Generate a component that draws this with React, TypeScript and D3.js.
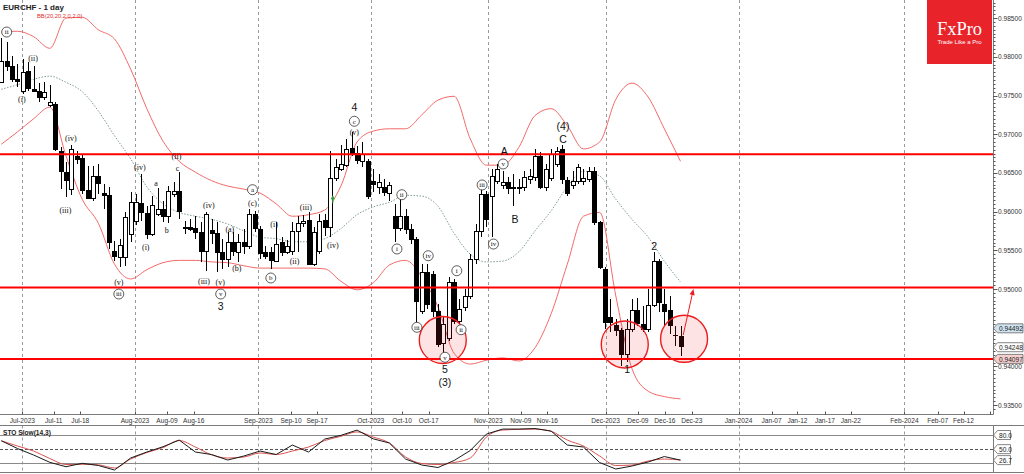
import React from "react";
import * as d3 from "d3";

// ---------- Daily candles EURCHF ----------
const open = [0.9767,0.9795,0.9788,0.9771,0.9756,0.9782,0.9758,0.9756,0.9748,0.9738,
0.9739,0.9678,0.9651,0.9629,0.9672,0.9669,0.9628,0.9618,0.9646,0.9624,
0.9621,0.9549,0.9541,0.9541,0.9571,0.9588,0.9611,0.9598,0.9571,0.9597,
0.9603,0.9594,0.9623,0.9627,0.9580,0.9580,0.9579,0.9574,0.9549,0.9576,
0.9572,0.9548,0.9539,0.9561,0.9548,0.9561,0.9556,0.9597,0.9578,0.9548,
0.9548,0.9536,0.9561,0.9548,0.9549,0.9575,0.9585,0.9589,0.9532,0.9549,
0.9589,0.9580,0.9643,0.9655,0.9660,0.9682,0.9676,0.9665,0.9665,0.9640,
0.9632,0.9632,0.9624,0.9594,0.9579,0.9594,0.9578,0.9565,0.9472,0.9522,
0.9519,0.9472,0.9430,0.9437,0.9509,0.9459,0.9477,0.9491,0.9539,0.9575,
0.9623,0.9620,0.9640,0.9634,0.9638,0.9632,0.9632,0.9632,0.9642,0.9645,
0.9672,0.9632,0.9643,0.9661,0.9681,0.9641,0.9634,0.9640,0.9640,0.9642,
0.9652,0.9587,0.9526,0.9464,0.9453,0.9447,0.9416,0.9448,0.9473,0.9455,
0.9448,0.9479,0.9536,0.9481,0.9473,0.9441,0.9439];
const high = [0.9824,0.9819,0.9801,0.9791,0.9797,0.9793,0.9788,0.9766,0.9767,0.9764,
0.9742,0.9683,0.9664,0.9686,0.9678,0.9673,0.9659,0.9659,0.9661,0.9636,
0.9632,0.9562,0.9565,0.9599,0.9625,0.9623,0.9649,0.9607,0.9620,0.9630,
0.9614,0.9633,0.9638,0.9651,0.9588,0.9590,0.9594,0.9587,0.9599,0.9590,
0.9587,0.9565,0.9574,0.9574,0.9571,0.9578,0.9603,0.9601,0.9581,0.9556,
0.9554,0.9587,0.9567,0.9563,0.9587,0.9594,0.9596,0.9599,0.9580,0.9597,
0.9597,0.9678,0.9668,0.9686,0.9694,0.9703,0.9685,0.9690,0.9668,0.9655,
0.9649,0.9642,0.9638,0.9610,0.9616,0.9603,0.9584,0.9567,0.9532,0.9532,
0.9523,0.9481,0.9464,0.9516,0.9513,0.9487,0.9500,0.9545,0.9584,0.9629,
0.9627,0.9655,0.9661,0.9652,0.9645,0.9649,0.9642,0.9652,0.9655,0.9681,
0.9677,0.9661,0.9681,0.9683,0.9686,0.9645,0.9652,0.9661,0.9655,0.9658,
0.9658,0.9588,0.9528,0.9487,0.9461,0.9450,0.9461,0.9487,0.9488,0.9478,
0.9500,0.9548,0.9539,0.9500,0.9491,0.9452,0.9452];
const low = [0.9766,0.9782,0.9767,0.9761,0.9752,0.9756,0.9755,0.9742,0.9744,0.9735,
0.9678,0.9629,0.9619,0.9621,0.9661,0.9623,0.9616,0.9614,0.9623,0.9603,
0.9552,0.9536,0.9528,0.9530,0.9561,0.9583,0.9588,0.9565,0.9568,0.9594,
0.9587,0.9585,0.9619,0.9590,0.9571,0.9575,0.9565,0.9535,0.9523,0.9558,
0.9522,0.9526,0.9528,0.9543,0.9535,0.9545,0.9552,0.9574,0.9539,0.9539,
0.9526,0.9535,0.9543,0.9545,0.9544,0.9548,0.9580,0.9531,0.9530,0.9545,
0.9568,0.9567,0.9640,0.9652,0.9658,0.9672,0.9661,0.9658,0.9616,0.9625,
0.9623,0.9620,0.9614,0.9561,0.9575,0.9571,0.9558,0.9455,0.9468,0.9474,
0.9464,0.9425,0.9413,0.9433,0.9455,0.9455,0.9472,0.9487,0.9532,0.9567,
0.9580,0.9567,0.9636,0.9629,0.9623,0.9607,0.9623,0.9627,0.9636,0.9640,
0.9629,0.9627,0.9640,0.9658,0.9636,0.9620,0.9629,0.9636,0.9634,0.9638,
0.9583,0.9526,0.9448,0.9444,0.9439,0.9400,0.9406,0.9444,0.9452,0.9444,
0.9444,0.9477,0.9470,0.9452,0.9442,0.9426,0.9413];
const close = [0.9795,0.9788,0.9771,0.9769,0.9780,0.9760,0.9756,0.9748,0.9755,0.9742,
0.9681,0.9652,0.9641,0.9681,0.9668,0.9628,0.9618,0.9646,0.9637,0.9621,
0.9561,0.9543,0.9557,0.9593,0.9612,0.9612,0.9599,0.9571,0.9609,0.9603,
0.9594,0.9627,0.9627,0.9601,0.9579,0.9578,0.9574,0.9549,0.9597,0.9572,
0.9548,0.9539,0.9561,0.9549,0.9561,0.9556,0.9597,0.9579,0.9547,0.9543,
0.9537,0.9558,0.9548,0.9556,0.9575,0.9585,0.9588,0.9532,0.9574,0.9588,
0.9580,0.9643,0.9658,0.9661,0.9681,0.9676,0.9667,0.9674,0.9620,0.9636,
0.9638,0.9625,0.9634,0.9579,0.9594,0.9578,0.9565,0.9484,0.9522,0.9481,
0.9472,0.9429,0.9455,0.9509,0.9459,0.9474,0.9491,0.9539,0.9575,0.9623,
0.9590,0.9646,0.9655,0.9638,0.9630,0.9630,0.9631,0.9645,0.9646,0.9672,
0.9632,0.9655,0.9674,0.9678,0.9642,0.9624,0.9640,0.9658,0.9643,0.9652,
0.9587,0.9528,0.9457,0.9457,0.9447,0.9416,0.9448,0.9473,0.9456,0.9448,
0.9479,0.9536,0.9483,0.9472,0.9453,0.9440,0.9426];

// ---------- Indicators sampled every 3 bars ----------
const sampleIdx = [0,3,6,9,12,15,18,21,24,27,30,33,36,39,42,45,48,51,54,57,60,63,66,69,72,75,78,81,84,87,90,93,96,99,102,105,108,111,114,117,120,123,126];
const bbUpper = [0.9832,0.9833,0.9826,0.9811,0.9850,0.9851,0.9835,0.9823,0.9784,0.9733,0.9691,0.9665,0.9651,0.9640,0.9633,0.9629,0.9624,0.9610,0.9594,0.9596,0.9602,0.9633,0.9690,0.9704,0.9707,0.9707,0.9725,0.9744,0.9749,0.9694,0.9660,0.9660,0.9683,0.9724,0.9733,0.9711,0.9681,0.9690,0.9745,0.9766,0.9748,0.9707,0.9665];
const bbMiddle = [0.9758,0.9764,0.9771,0.9775,0.9767,0.9755,0.9730,0.9698,0.9668,0.9632,0.9610,0.9599,0.9594,0.9590,0.9584,0.9575,0.9567,0.9565,0.9561,0.9561,0.9565,0.9578,0.9596,0.9606,0.9612,0.9621,0.9620,0.9607,0.9572,0.9545,0.9535,0.9536,0.9548,0.9575,0.9601,0.9632,0.9652,0.9646,0.9616,0.9590,0.9567,0.9536,0.9509];
const bbLower = [0.9687,0.9703,0.9720,0.9735,0.9672,0.9616,0.9585,0.9532,0.9513,0.9525,0.9534,0.9537,0.9537,0.9535,0.9534,0.9530,0.9527,0.9527,0.9527,0.9527,0.9526,0.9510,0.9499,0.9508,0.9531,0.9537,0.9516,0.9477,0.9417,0.9403,0.9408,0.9411,0.9407,0.9424,0.9468,0.9532,0.9594,0.9599,0.9491,0.9397,0.9368,0.9361,0.9358];
const stoK = [67.8,51.3,37.5,22.0,12.7,19.9,15.3,5.7,31.2,43.9,55.1,69.3,43.9,38.6,26.9,35.4,46.0,38.6,58.7,43.9,71.4,79.3,90.5,71.9,63.0,29.0,16.3,11.0,25.9,47.1,82.0,92.6,92.6,93.7,88.4,58.7,54.5,21.6,7.8,14.2,22.7,34.3,26.7];
const stoD = [67.8,56.6,46.0,30.1,17.4,17.8,16.7,10.0,29.0,42.8,53.4,68.3,54.5,37.9,31.2,33.3,41.8,38.6,46.0,54.5,68.3,77.2,86.7,75.7,63.0,33.3,19.5,17.4,21.6,31.2,75.7,90.5,92.0,92.6,87.8,69.3,56.6,35.4,15.3,16.3,24.8,29.0,26.9];
const stoLevels = [80, 50, 20];

// ---------- Axis ----------
const tickLabels = ["Jul-2023","Jul-11","Jul-18","Aug-2023","Aug-09","Aug-16","Sep-2023","Sep-10","Sep-17","Oct-2023","Oct-10","Oct-17","Nov-2023","Nov-09","Nov-16","Dec-2023","Dec-09","Dec-16","Dec-23","Jan-2024","Jan-07","Jan-12","Jan-17","Jan-22","Feb-2024","Feb-07","Feb-12"];
const tickIdx = [3.9,9.74,14.66,24.8,30.74,35.7,47.68,53.75,58.57,68.53,74.34,79.3,90.35,96.38,101.3,112.1,118.1,123.1,128.1,136.77,142.9,147.7,152.8,157.6,167.55,173.7,178.5];
const priceTicks = [0.935,0.940,0.945,0.950,0.955,0.960,0.965,0.970,0.975,0.980,0.985];

// ---------- Drawn objects ----------
const levelPrices = [0.9674, 0.9502, 0.94097];
const tagValues = [0.94492, 0.94248, 0.94097];
const tagFills = ["#cfe3f1", "#ffffff", "#f6cfcf"];
const circleIdx = [81.9, 115.66, 126.66];
const circlePrice = [0.94341, 0.94283, 0.94357];
const arrowIdx = [126.5, 128.4];
const arrowPrice = [0.94406, 0.9500];

const waveText = ["ii","(ii)","(i)","(iv)","(iii)","(v)","iii","(iv)","(i)","a","b","c","(ii)","(iv)","(iii)","(v)","v","3","(a)","(b)","a","(c)","b","(i)","(ii)","(iii)","(iv)","4","c","(v)","ii","i","iii","iv","v","5","(3)","i","ii","iii","iv","v","A","B","(4)","C","2","1"];
const waveKind = ["c","p","p","p","p","p","c","p","p","p","p","p","p","p","p","p","c","b","p","p","c","p","c","p","p","p","p","b","c","p","c","c","c","c","c","b","b","c","c","c","c","c","b","b","b","b","b","b"];
const waveIdx = [1.0,5.9,3.8,12.9,11.9,21.8,21.8,25.7,26.8,28.7,30.7,32.7,32.5,38.5,37.6,40.6,40.7,40.7,42.4,43.7,46.6,46.6,50.0,50.6,54.4,56.5,61.5,65.5,65.5,65.5,74.3,73.4,77.1,79.2,82.3,82.3,82.3,84.5,85.3,89.2,91.3,93.1,93.3,95.3,104.2,104.2,121.1,116.1];
const wavePrice = [0.98320,0.97972,0.97442,0.96938,0.96008,0.95090,0.94935,0.96576,0.95530,0.96357,0.95753,0.96563,0.96718,0.96085,0.95103,0.95090,0.94935,0.94780,0.95775,0.95271,0.96283,0.96107,0.95142,0.95831,0.95358,0.96059,0.95559,0.97348,0.97167,0.97025,0.96218,0.95517,0.94505,0.95430,0.94118,0.93966,0.93795,0.95236,0.94474,0.96344,0.95581,0.96615,0.96787,0.95904,0.97110,0.96938,0.95559,0.93966];

const PR = 993.5;      // right edge of plot
const MB = 414.5;      // main panel bottom
const ST = 425.5;      // sto top
const SB = 472.5;      // sto bottom
const SANS = "'Liberation Sans', Arial, sans-serif";
const SERIF = "'Liberation Serif', 'Times New Roman', serif";

export default function App() {
  const x = d3.scaleLinear().domain([0, 126]).range([1.3, 680.5]);
  const y = d3.scaleLinear().domain([0.935, 0.985]).range([405.1, 18.1]);
  const ys = d3.scaleLinear().domain([0, 100]).range([472.7, 425.6]);

  const bandPath = (vals: number[]) =>
    d3.line<number>().x((_, i) => x(sampleIdx[i])).y((v) => y(v)).curve(d3.curveMonotoneX)(vals) || "";
  const stoPath = (vals: number[], curve: any) =>
    d3.line<number>().x((_, i) => x(sampleIdx[i])).y((v) => ys(v)).curve(curve)(vals) || "";

  const minorTicks = d3.range(0, 106).map((k) => 0.9345 + k * 0.0005);
  const monthGrid = tickIdx.filter((_, i) => /20\d\d/.test(tickLabels[i]));

  const ax1 = x(arrowIdx[0]), ay1 = y(arrowPrice[0]);
  const ax2 = x(arrowIdx[1]), ay2 = y(arrowPrice[1]);
  const ang = Math.atan2(ay2 - ay1, ax2 - ax1);
  const hl = 6, hw = 2.6;
  const head = `M${ax2},${ay2} L${ax2 - hl * Math.cos(ang) + hw * Math.sin(ang)},${ay2 - hl * Math.sin(ang) - hw * Math.cos(ang)} L${ax2 - hl * Math.cos(ang) - hw * Math.sin(ang)},${ay2 - hl * Math.sin(ang) + hw * Math.cos(ang)} Z`;

  const tag = (yy: number, w: number) =>
    `M${PR},${yy} L${PR + 4},${yy - 4.5} L${PR + 4 + w},${yy - 4.5} L${PR + 4 + w},${yy + 4.5} L${PR + 4},${yy + 4.5} Z`;

  const gx = x(61.5), gy = y(0.9616);

  return (
    <svg width={1024} height={474} style={{ position: "fixed", left: 0, top: 0, background: "#fff" }}>
      <defs>
        <clipPath id="mainClip"><rect x={0} y={0} width={PR} height={MB} /></clipPath>
        <clipPath id="stoClip"><rect x={0} y={ST} width={PR} height={SB - ST} /></clipPath>
      </defs>
      <rect x={0} y={0} width={1024} height={474} fill="#fff" />

      {/* vertical month grid */}
      {monthGrid.map((t, i) => (
        <g key={"g" + i}>
          <line x1={Math.round(x(t)) + 0.5} x2={Math.round(x(t)) + 0.5} y1={0} y2={MB} stroke="#9a9a9a" strokeDasharray="3,3" />
          <line x1={Math.round(x(t)) + 0.5} x2={Math.round(x(t)) + 0.5} y1={ST} y2={SB} stroke="#9a9a9a" strokeDasharray="3,3" />
        </g>
      ))}

      <g clipPath="url(#mainClip)">
        {/* Bollinger bands */}
        <path d={bandPath(bbUpper)} fill="none" stroke="#f26a6a" strokeWidth={1} />
        <path d={bandPath(bbLower)} fill="none" stroke="#f26a6a" strokeWidth={1} />
        <path d={bandPath(bbMiddle)} fill="none" stroke="#7f9c94" strokeWidth={1} strokeDasharray="1.5,1.5" />

        {/* candles */}
        {open.map((o, i) => {
          const cx = Math.round(x(i));
          const yo = y(o), yc = y(close[i]);
          const top = Math.round(Math.min(yo, yc));
          const bot = Math.round(Math.max(yo, yc));
          const up = close[i] > o;
          return (
            <g key={"c" + i}>
              <line x1={cx + 0.5} x2={cx + 0.5} y1={Math.round(y(high[i]))} y2={Math.round(y(low[i]))} stroke="#000" strokeWidth={1} />
              {bot - top < 1 ? (
                <line x1={cx - 2} x2={cx + 3} y1={top + 0.5} y2={top + 0.5} stroke="#000" />
              ) : (
                <rect x={cx - 1.5} y={top + 0.5} width={4} height={bot - top} fill={up ? "#fff" : "#000"} stroke="#000" strokeWidth={1} />
              )}
            </g>
          );
        })}

        {/* horizontal levels */}
        {levelPrices.map((p, i) => (
          <line key={"l" + i} x1={0} x2={PR} y1={y(p)} y2={y(p)} stroke="#ff0000" strokeWidth={2} />
        ))}

        {/* circles */}
        {circleIdx.map((ci, i) => (
          <circle key={"o" + i} cx={x(ci)} cy={y(circlePrice[i])} r={23.5} fill="rgba(240,40,40,0.13)" stroke="#ee1c1c" strokeWidth={1.4} />
        ))}

        {/* arrow */}
        <line x1={ax1} y1={ay1} x2={ax2 - 4 * Math.cos(ang)} y2={ay2 - 4 * Math.sin(ang)} stroke="#ee1c1c" strokeWidth={1} />
        <path d={head} fill="#ee1c1c" />

        {/* green up arrow */}
        <path d={`M${gx},${gy - 4} L${gx - 2.2},${gy} L${gx + 2.2},${gy} Z M${gx - 0.6},${gy} L${gx + 0.6},${gy} L${gx + 0.6},${gy + 4} L${gx - 0.6},${gy + 4} Z`} fill="#2fa33a" />

        {/* wave labels */}
        {waveText.map((t, i) => {
          const lx = x(waveIdx[i]);
          const ly = y(wavePrice[i]);
          if (waveKind[i] === "b")
            return (
              <text key={"w" + i} x={lx} y={ly} textAnchor="middle" dominantBaseline="central" fontFamily={SANS} fontSize={10.5} fill="#111">{t}</text>
            );
          if (waveKind[i] === "c")
            return (
              <g key={"w" + i}>
                <circle cx={lx} cy={ly} r={5} fill="#fff" stroke="#333" strokeWidth={0.8} />
                <text x={lx} y={ly + 0.3} textAnchor="middle" dominantBaseline="central" fontFamily={SERIF} fontSize={7} fill="#111">{t}</text>
              </g>
            );
          return (
            <text key={"w" + i} x={lx} y={ly} textAnchor="middle" dominantBaseline="central" fontFamily={SERIF} fontSize={8} fill="#111">{t}</text>
          );
        })}
      </g>

      {/* Stochastic */}
      <g clipPath="url(#stoClip)">
        {stoLevels.map((lv, i) => (
          <line key={"s" + i} x1={0} x2={PR} y1={Math.round(ys(lv)) + 0.5} y2={Math.round(ys(lv)) + 0.5} stroke={lv === 50 ? "#555" : "#8a8a8a"} strokeDasharray={lv === 50 ? "3,2" : undefined} />
        ))}
        <path d={stoPath(stoD, d3.curveMonotoneX)} fill="none" stroke="#d9534f" strokeWidth={1} />
        <path d={stoPath(stoK, d3.curveLinear)} fill="none" stroke="#1a1a1a" strokeWidth={1} />
      </g>

      {/* frames */}
      <line x1={0} x2={PR} y1={MB} y2={MB} stroke="#7a7a7a" />
      <line x1={PR} x2={PR} y1={0} y2={MB} stroke="#7a7a7a" />
      <line x1={0} x2={1024} y1={ST} y2={ST} stroke="#7a7a7a" />
      <line x1={0} x2={1024} y1={SB} y2={SB} stroke="#7a7a7a" />
      <line x1={PR} x2={PR} y1={ST} y2={SB} stroke="#7a7a7a" />

      {/* time axis */}
      {tickIdx.map((t, i) => (
        <g key={"t" + i}>
          <line x1={Math.round(x(t)) + 0.5} x2={Math.round(x(t)) + 0.5} y1={MB - 3} y2={MB} stroke="#555" />
          <text x={x(t)} y={423} textAnchor="middle" fontFamily={SANS} fontSize={6.6} fill="#333">{tickLabels[i]}</text>
        </g>
      ))}
      <line x1={990.5} x2={990.5} y1={MB - 3} y2={MB} stroke="#555" />

      {/* price axis */}
      {minorTicks.map((p, i) => (
        <line key={"m" + i} x1={PR} x2={PR + 2} y1={Math.round(y(p)) + 0.5} y2={Math.round(y(p)) + 0.5} stroke="#555" />
      ))}
      {priceTicks.map((p, i) => (
        <g key={"p" + i}>
          <line x1={PR} x2={PR + 4} y1={Math.round(y(p)) + 0.5} y2={Math.round(y(p)) + 0.5} stroke="#555" />
          <text x={998} y={y(p)} dominantBaseline="central" fontFamily={SANS} fontSize={6.6} fill="#333">{p.toFixed(5)}</text>
        </g>
      ))}

      {/* price tags */}
      {tagValues.map((v, i) => (
        <g key={"tg" + i}>
          <path d={tag(y(v), 25.5)} fill={tagFills[i]} stroke="#666" strokeWidth={0.8} />
          <text x={999} y={y(v) + 0.3} dominantBaseline="central" fontFamily={SANS} fontSize={6.6} fill="#222">{v.toFixed(5)}</text>
        </g>
      ))}

      {/* sto labels */}
      {[80, 50].map((lv, i) => (
        <g key={"sl" + i}>
          <path d={tag(ys(lv), 13)} fill="#fff" stroke="#666" strokeWidth={0.8} />
          <text x={999} y={ys(lv) + 0.3} dominantBaseline="central" fontFamily={SANS} fontSize={6.6} fill="#222">{lv.toFixed(1)}</text>
        </g>
      ))}
      <path d={tag(ys(stoK[stoK.length - 1]), 13)} fill="#fff" stroke="#666" strokeWidth={0.8} />
      <text x={999} y={ys(stoK[stoK.length - 1]) + 0.3} dominantBaseline="central" fontFamily={SANS} fontSize={6.6} fill="#222">{stoK[stoK.length - 1].toFixed(1)}</text>

      {/* titles */}
      <text x={3} y={9.5} fontFamily={SANS} fontSize={8} fontWeight="bold" fill="#222">EURCHF - 1 day</text>
      <text x={37} y={18} fontFamily={SANS} fontSize={5.8} fill="#e03030">BB(20,20,2.0,2.0)</text>
      <text x={3} y={435} fontFamily={SANS} fontSize={6.6} fontWeight="bold" fill="#222">STO Slow(14,3)</text>

      {/* logo */}
      <rect x={927} y={0} width={65} height={64} fill="#e8232a" />
      <text x={959.5} y={34.5} textAnchor="middle" fontFamily={SERIF} fontSize={18.5} fill="#fff">FxPro</text>
      <text x={959.5} y={43.5} textAnchor="middle" fontFamily={SANS} fontSize={6} fill="#fff">Trade Like a Pro</text>
    </svg>
  );
}
